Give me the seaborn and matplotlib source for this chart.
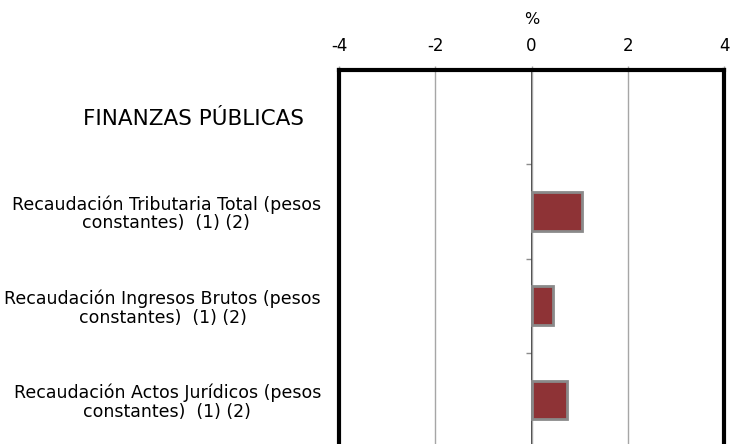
import numpy as np
import pandas as pd
import matplotlib
matplotlib.use("Agg")
import matplotlib.pyplot as plt
import matplotlib.transforms as mtransforms
import seaborn as sns

# Data
categories = [
    "FINANZAS PÚBLICAS",
    "Recaudación Tributaria Total (pesos\nconstantes)  (1) (2)",
    "Recaudación Ingresos Brutos (pesos\nconstantes)  (1) (2)",
    "Recaudación Actos Jurídicos (pesos\nconstantes)  (1) (2)",
]
values = [np.nan, 1.04, 0.44, 0.73]
x_ticks = [-4, -2, 0, 2, 4]

bar_color = "#8E3336"
edge_color = "#8A8A8A"
grid_color = "#A6A6A6"

sns.set_theme(style="white")
plt.rcParams["font.family"] = ["DejaVu Sans"]
plt.rcParams["text.color"] = "black"

df = pd.DataFrame({"cat": categories, "val": values})

fig = plt.figure(figsize=(7.33, 4.44), dpi=100)
# axes runs slightly past the bottom edge, as in the cropped reference
ax = fig.add_axes([339 / 733, 1 - 447 / 444, 385 / 733, (447 - 70) / 444])

sns.barplot(data=df, x="val", y="cat", orient="h", color=bar_color,
            edgecolor=edge_color, linewidth=2, width=0.41, saturation=1, ax=ax)
ax.set_xlim(-4, 4)
ax.set_ylim(len(categories) - 0.5, -0.5)

# vertical gridlines
ax.set_xticks(x_ticks)
ax.grid(axis="x", color=grid_color, linewidth=1)
ax.set_axisbelow(True)

# top axis with % label
ax.xaxis.tick_top()
ax.xaxis.set_label_position("top")
ax.set_xlabel("%", fontsize=11.5, labelpad=9, color="black")
ax.tick_params(axis="x", direction="out", length=3, width=1, color=grid_color,
               labelsize=12, pad=8, labelcolor="black")
ax.set_xticklabels([str(t) for t in x_ticks])

# category labels
ax.set_ylabel("")
ax.tick_params(axis="y", length=0, pad=13, labelsize=12.5, labelcolor="black")
for lab in ax.get_yticklabels():
    lab.set_multialignment("center")
    lab.set_linespacing(1.05)
first = ax.get_yticklabels()[0]
first.set_fontsize(15.5)
first.set_transform(first.get_transform() +
                    mtransforms.ScaledTranslation(-0.17, 0, fig.dpi_scale_trans))

for side in ["left", "top", "right"]:
    ax.spines[side].set_color("black")
    ax.spines[side].set_linewidth(3)
ax.spines["bottom"].set_visible(False)

# category axis crossing at zero, ticks between categories pointing left
zero_axis = ax.secondary_yaxis(0.5)
zero_axis.set_ylim(ax.get_ylim())
zero_axis.set_yticks(np.arange(len(categories)) + 0.5)
zero_axis.set_yticklabels([])
zero_axis.tick_params(axis="y", direction="in", length=4.5, width=1, color="#8C8C8C")
zero_axis.spines["left"].set_color("#7F7F7F")
zero_axis.spines["left"].set_linewidth(1.2)

fig.savefig("out.png", dpi=100)
